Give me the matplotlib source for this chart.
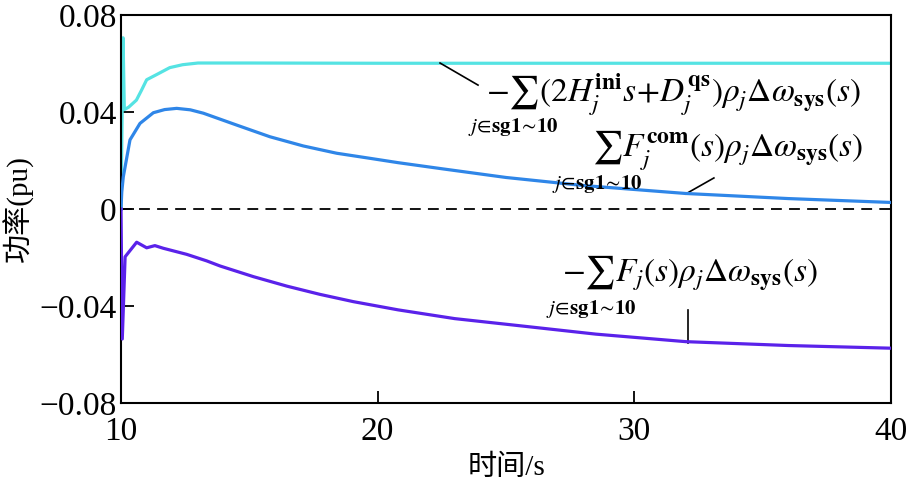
import matplotlib
matplotlib.use("Agg")
import matplotlib.pyplot as plt
from matplotlib.ticker import FixedLocator, FixedFormatter

plt.rcParams['font.family'] = ['Liberation Serif', 'Noto Sans CJK SC']
plt.rcParams['mathtext.fontset'] = 'stix'
plt.rcParams['axes.unicode_minus'] = True

# ---- data ----
cyan_t = [10.0, 10.08, 10.13, 10.3, 10.6, 10.8, 11.0, 11.4, 11.9, 12.4, 13.0, 15.0, 20.0, 30.0, 40.0]
cyan_v = [0.0, 0.0706, 0.041, 0.042, 0.0449, 0.049, 0.0533, 0.0555, 0.0583, 0.0595, 0.0602, 0.0602, 0.0601, 0.0601, 0.0601]

blue_t = [10.0, 10.03, 10.09, 10.35, 10.74, 11.26, 11.7, 12.17, 12.7, 13.21, 14.51, 15.8, 17.1, 18.4, 19.7, 20.8, 22.5, 25.0, 28.0, 32.0, 36.0, 40.0]
blue_v = [0.0, 0.007, 0.0133, 0.0285, 0.0353, 0.0397, 0.0410, 0.0415, 0.0409, 0.0395, 0.0346, 0.0298, 0.0260, 0.0230, 0.0209, 0.0191, 0.0166, 0.0130, 0.0097, 0.0064, 0.0043, 0.0027]

purple_t = [10.0, 10.05, 10.16, 10.61, 11.0, 11.32, 11.65, 12.56, 13.34, 13.86, 15.16, 16.46, 17.75, 19.05, 20.8, 23.0, 25.5, 28.5, 32.0, 36.0, 40.0]
purple_v = [0.0, -0.0536, -0.0197, -0.0137, -0.0160, -0.0151, -0.0162, -0.0187, -0.0214, -0.0235, -0.0279, -0.0318, -0.0352, -0.0382, -0.0416, -0.0452, -0.0481, -0.0516, -0.0547, -0.0563, -0.0574]

x_ticks = [10, 20, 30, 40]
x_ticklabels = ['10', '20', '30', '40']
y_ticks = [-0.08, -0.04, 0.0, 0.04, 0.08]
y_ticklabels = ['\u22120.08', '\u22120.04', '0', '0.04', '0.08']

label1 = r'$-\sum(2H_j^{\mathbf{ini}}s\!+\!D_j^{\mathbf{qs}})\rho_j\Delta\omega_{\mathbf{sys}}(s)$'
label2 = r'$\sum F_j^{\mathbf{com}}(s)\rho_j\Delta\omega_{\mathbf{sys}}(s)$'
label3 = r'$-\sum F_j(s)\rho_j\Delta\omega_{\mathbf{sys}}(s)$'
sum_sub = r'$j\!\in\!\mathbf{sg1}\!\sim\!\mathbf{10}$'

# ---- figure ----
fig = plt.figure(figsize=(9.11, 4.95), dpi=100)
ax = fig.add_axes([121/911, 1-403/495, (891-121)/911, (403-15)/495])

ax.axhline(0, color='black', lw=1.3, ls=(0, (6, 4)), zorder=1)
ax.plot(cyan_t, cyan_v, color='#55e3e3', lw=2.3, zorder=2)
ax.plot(blue_t, blue_v, color='#2f86e8', lw=2.3, zorder=3)
ax.plot(purple_t, purple_v, color='#5a22ea', lw=2.3, zorder=3)

ax.set_xlim(10, 40)
ax.set_ylim(-0.08, 0.08)
ax.xaxis.set_major_locator(FixedLocator(x_ticks))
ax.xaxis.set_major_formatter(FixedFormatter(x_ticklabels))
ax.yaxis.set_major_locator(FixedLocator(y_ticks))
ax.yaxis.set_major_formatter(FixedFormatter(y_ticklabels))
ax.tick_params(direction='in', length=9, width=1.3, labelsize=24, top=False, right=False)
ax.tick_params(axis='x', pad=10)
ax.tick_params(axis='y', pad=3)
for sp in ax.spines.values():
    sp.set_linewidth(1.5)

ax.set_xlabel('时间/s', fontsize=21, labelpad=5)
ax.set_ylabel('功率(pu)', fontsize=21, labelpad=4)

# annotations
ax.plot([22.43, 23.91], [0.0602, 0.0511], color='black', lw=1.2)
ax.plot([32.0, 33.1], [0.0062, 0.0128], color='black', lw=1.2)
ax.plot([32.09, 32.09], [-0.0416, -0.0553], color='black', lw=1.2)

ax.text(24.22, 0.0441, label1, fontsize=24, ha='left', va='baseline')
ax.text(23.5, 0.0338, sum_sub, fontsize=15, ha='left', va='center')
ax.text(28.35, 0.0214, label2, fontsize=24, ha='left', va='baseline')
ax.text(26.8, 0.0105, sum_sub, fontsize=15, ha='left', va='center')
ax.text(27.2, -0.0301, label3, fontsize=24, ha='left', va='baseline')
ax.text(26.55, -0.0414, sum_sub, fontsize=15, ha='left', va='center')

fig.savefig('out.png', dpi=100)
